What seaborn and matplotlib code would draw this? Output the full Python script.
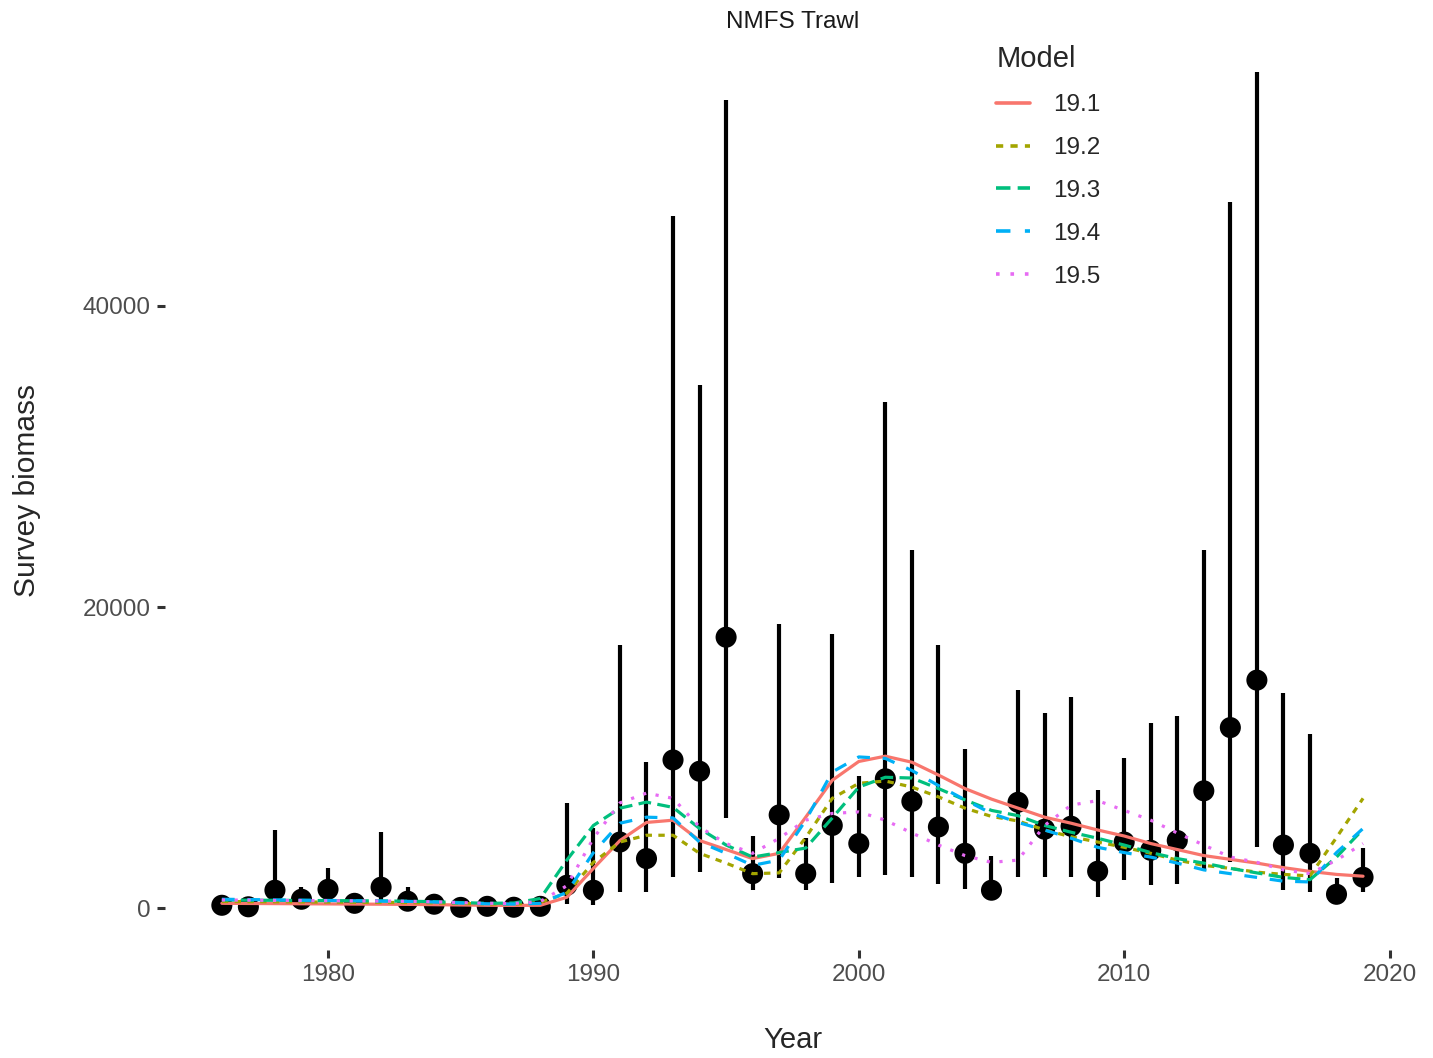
import numpy as np
import pandas as pd
import matplotlib
matplotlib.use("Agg")
import matplotlib.pyplot as plt
import seaborn as sns

years = list(range(1976, 2020))

# observed survey biomass with interval
obs = [200, 100, 1200, 600, 1260, 330, 1400, 470, 270, 60, 130, 70, 130,
       1530, 1200, 4400, 3300, 9850, 9100, 18000, 2300, 6200, 2300, 5500,
       4300, 8600, 7100, 5400, 3650, 1200, 7040, 5250, 5450, 2460, 4400,
       3850, 4500, 7800, 12000, 15150, 4200, 3650, 930, 2060]
upper = [700, 250, 5200, 1400, 2650, 500, 5050, 1400, 400, 100, 250, 100, 250,
         7000, 5300, 17500, 9700, 46000, 34750, 53700, 4800, 18900, 4650, 18200,
         8800, 33600, 23800, 17500, 10600, 3500, 14500, 13000, 14000, 7850, 10000,
         12300, 12750, 23800, 46900, 55500, 14300, 11600, 2000, 4000]
lower = [50, 20, 300, 250, 600, 100, 400, 150, 100, 20, 40, 20, 40,
         300, 200, 1060, 1060, 2100, 2400, 6000, 1200, 2000, 1200, 1660,
         2100, 2200, 2060, 1600, 1260, 530, 2060, 2060, 2060, 730, 1860,
         1530, 1600, 2500, 3050, 4100, 1200, 1060, 450, 1060]

# model fits
m191 = [330, 320, 310, 300, 290, 280, 270, 260, 240, 220, 200, 190, 200,
        730, 2650, 4500, 5700, 5850, 4500, 3900, 3300, 3650, 6050, 8500,
        9750, 10100, 9700, 8850, 7950, 7250, 6650, 6050, 5650, 5200, 4800,
        4300, 3900, 3500, 3250, 3000, 2700, 2450, 2250, 2130]
m192 = [450, 440, 430, 420, 410, 400, 390, 380, 360, 320, 290, 270, 400,
        1000, 3050, 4400, 4850, 4850, 3650, 3000, 2300, 2350, 4700, 7300,
        8300, 8450, 8050, 7400, 6650, 6100, 5800, 5200, 4750, 4400, 4050,
        3650, 3200, 2850, 2650, 2400, 2250, 2150, 4700, 7300]
m193 = [550, 540, 530, 520, 510, 500, 490, 470, 440, 380, 330, 350, 650,
        3200, 5500, 6650, 7050, 6700, 5300, 4200, 3400, 3700, 4000, 6000,
        8050, 8700, 8650, 7950, 7200, 6500, 6150, 5500, 5050, 4650, 4200,
        3700, 3300, 3000, 2650, 2350, 2050, 1900, 3400, 5250]
m194 = [600, 580, 560, 540, 520, 500, 480, 460, 420, 350, 300, 280, 330,
        1060, 3700, 5650, 6050, 6000, 4400, 3650, 2850, 3200, 5850, 9050,
        10050, 9950, 9150, 8150, 7200, 6300, 5700, 5200, 4650, 4050, 3700,
        3400, 3000, 2550, 2300, 2050, 1800, 1750, 3700, 5300]
m195 = [550, 540, 520, 510, 500, 490, 480, 460, 430, 380, 330, 320, 450,
        1500, 4650, 7000, 7650, 7300, 5400, 4300, 3650, 4650, 5850, 6300,
        6400, 5850, 5000, 4200, 3500, 3050, 3200, 5500, 6850, 7150, 6500,
        5850, 5000, 4200, 3400, 3050, 2550, 2300, 3200, 4300]

models = ["19.1", "19.2", "19.3", "19.4", "19.5"]
colors = ["#F8766D", "#A3A500", "#00BF7D", "#00B0F6", "#E76BF3"]
dash_styles = ["", (2, 2), (4, 2), (4, 4), (1, 3)]

fits = pd.DataFrame({
    "Year": years * 5,
    "Biomass": m191 + m192 + m193 + m194 + m195,
    "Model": np.repeat(models, len(years)),
})
surv = pd.DataFrame({"Year": years, "Obs": obs, "Lo": lower, "Hi": upper})

sns.set_style("white")
plt.rcParams["font.family"] = ["Liberation Sans", "DejaVu Sans"]

fig = plt.figure(figsize=(14.33, 10.58), dpi=100)
ax = fig.add_axes([0.115, 0.102, 0.876, 0.869])

ax.vlines(surv["Year"], surv["Lo"], surv["Hi"], color="black", linewidth=3.0, zorder=2)
sns.scatterplot(data=surv, x="Year", y="Obs", color="black", s=230,
                edgecolor="none", ax=ax, zorder=3, legend=False)
sns.lineplot(data=fits, x="Year", y="Biomass", hue="Model", style="Model",
             palette=dict(zip(models, colors)),
             dashes=dict(zip(models, dash_styles)),
             linewidth=2.3, ax=ax, zorder=4)

ax.set_xlim(1973.85, 2021.15)
ax.set_ylim(-2775, 58275)
ax.set_xticks([1980, 1990, 2000, 2010, 2020])
ax.set_yticks([0, 20000, 40000])
for s in ax.spines.values():
    s.set_visible(False)
ax.tick_params(axis="both", length=6, width=2.2, color="#333333",
               labelsize=17.5, labelcolor="#4D4D4D", pad=4, bottom=True, left=True)

ax.set_xlabel("Year", fontsize=21, labelpad=29)
ax.set_ylabel("Survey biomass", fontsize=21.5, labelpad=30)
ax.set_title("NMFS Trawl", fontsize=17.5, pad=2, color="#1A1A1A")

leg = ax.legend(title="Model", loc="upper left", bbox_to_anchor=(0.645, 1.008),
                frameon=False, fontsize=17.5, title_fontsize=21,
                handlelength=1.4, handletextpad=0.95, labelspacing=0.86)
leg._legend_box.align = "left"
for line in leg.get_lines():
    line.set_linewidth(2.6)

fig.savefig("out.png", dpi=100)
